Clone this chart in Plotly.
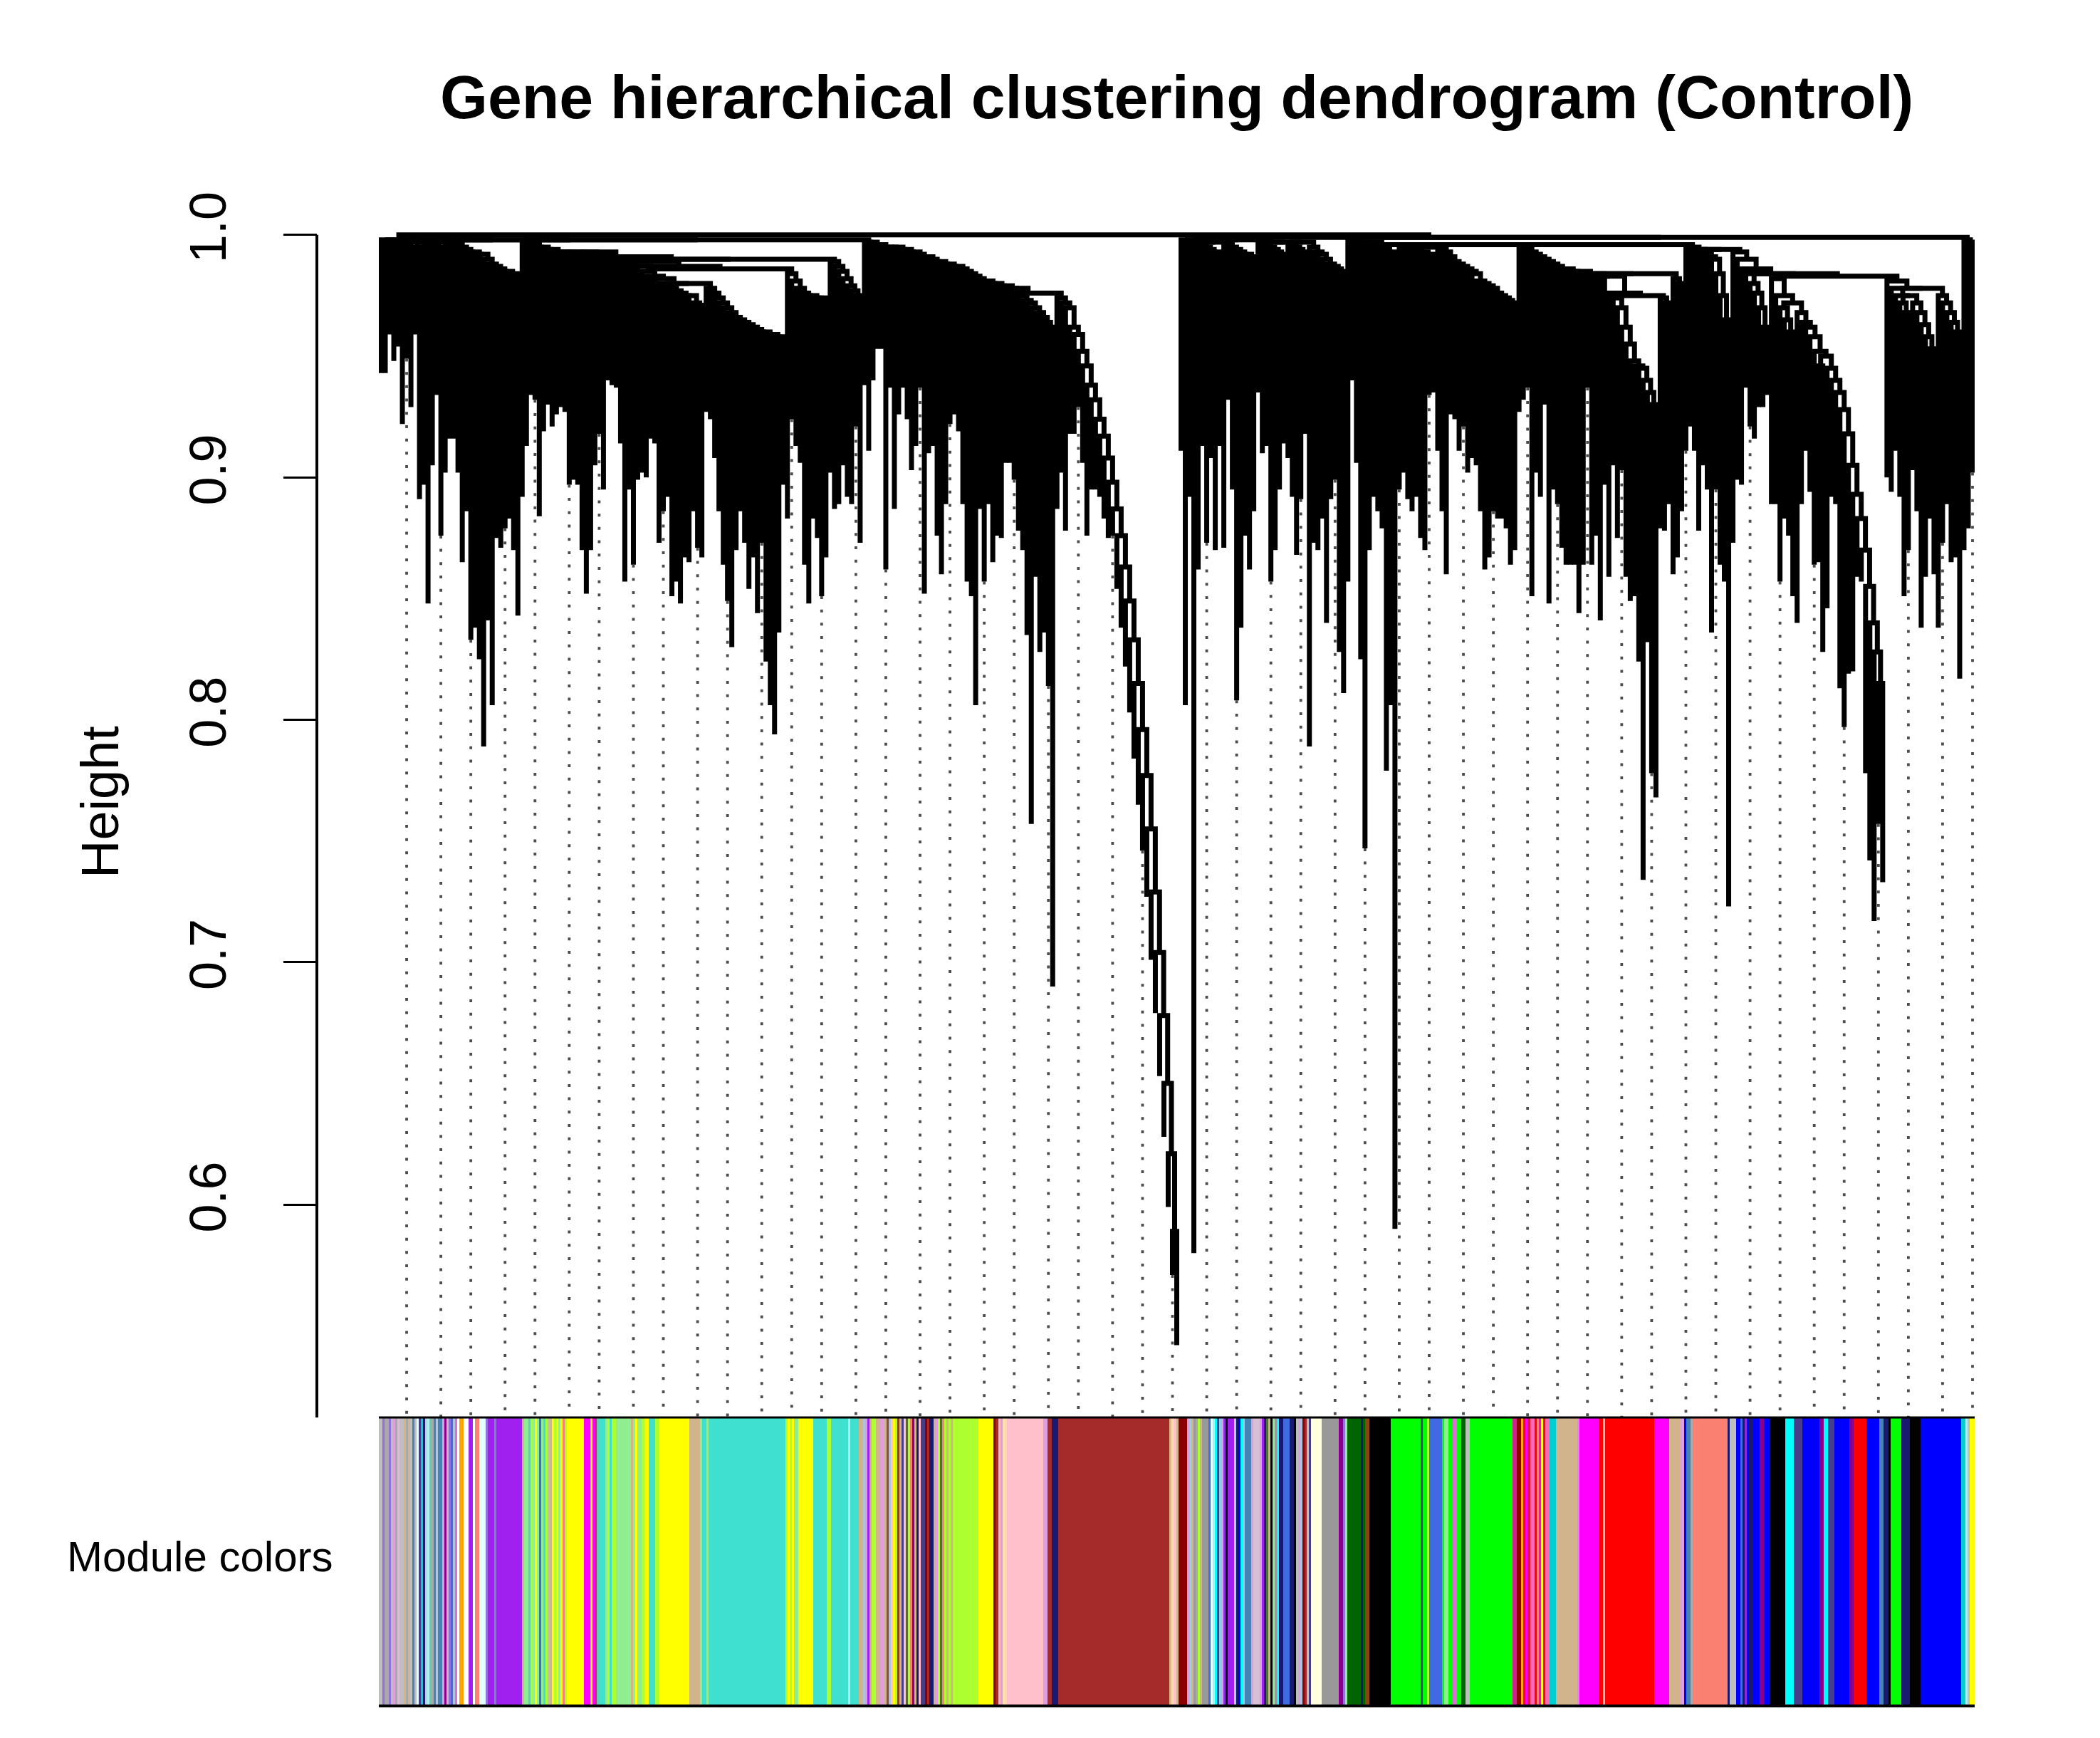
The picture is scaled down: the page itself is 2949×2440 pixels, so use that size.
import plotly.graph_objects as go

# ---- dendrogram data (WGCNA gene tree, Control) ----
# branch tips in dendrogram order: height where each tip ends
pair_low = [
    # left block
    0.949, 0.949, 0.965, 0.954, 0.960, 0.928, 0.955, 0.935, 0.965, 0.897,
    0.903, 0.854, 0.911, 0.940, 0.882, 0.908, 0.922, 0.922, 0.908, 0.871,
    0.892, 0.839, 0.844, 0.831, 0.795, 0.847, 0.812, 0.881, 0.877, 0.885,
    0.889, 0.876, 0.849, 0.898, 0.919, 0.940, 0.938, 0.890, 0.925, 0.936,
    0.927, 0.932, 0.935, 0.933, 0.903, 0.905, 0.903, 0.876, 0.858, 0.876,
    0.911, 0.924, 0.901, 0.946, 0.944, 0.943, 0.920, 0.863, 0.901, 0.870,
    0.905, 0.908, 0.906, 0.922, 0.920, 0.879, 0.892, 0.898, 0.857, 0.863,
    0.854, 0.873, 0.871, 0.892, 0.877, 0.873, 0.933, 0.930, 0.914, 0.892,
    0.870, 0.855, 0.836, 0.876, 0.892, 0.879, 0.860, 0.873, 0.850, 0.879,
    0.830, 0.812, 0.800, 0.842, 0.903, 0.889,
    0.930, 0.919, 0.912, 0.870, 0.854, 0.889, 0.881, 0.857, 0.873, 0.908,
    0.893, 0.895, 0.911, 0.898, 0.895, 0.927, 0.879,
    # cluster starting at display x ~640
    0.944, 0.917, 0.946, 0.959, 0.959, 0.868, 0.943, 0.893, 0.932, 0.943,
    0.930, 0.909, 0.919, 0.943, 0.858, 0.916, 0.919, 0.882, 0.866, 0.895,
    0.928, 0.932, 0.925, 0.895, 0.863, 0.857, 0.812, 0.893, 0.863, 0.895,
    0.871, 0.882, 0.881, 0.912, 0.912, 0.905, 0.884, 0.876, 0.841, 0.763,
    0.865, 0.834, 0.842, 0.820, 0.696, 0.893, 0.908, 0.884,
    # brown module chain
    0.924, 0.924, 0.935, 0.912, 0.882, 0.901, 0.901, 0.898, 0.889, 0.881,
    0.882, 0.860, 0.844, 0.828, 0.809, 0.790, 0.771, 0.752, 0.733, 0.707,
    0.685, 0.659, 0.634, 0.605, 0.577, 0.548,
    # right half
    0.917, 0.812, 0.898, 0.586, 0.868, 0.919, 0.879, 0.914, 0.876, 0.919,
    0.877, 0.938, 0.901, 0.814, 0.844, 0.882, 0.868, 0.892, 0.941, 0.916,
    0.919, 0.863, 0.876, 0.901, 0.920, 0.914, 0.898, 0.874, 0.897, 0.924,
    0.795, 0.879, 0.876, 0.889, 0.846, 0.897, 0.905, 0.834, 0.817, 0.863,
    0.946, 0.912, 0.831, 0.753, 0.876, 0.898, 0.892, 0.885, 0.785, 0.812,
    0.596, 0.901, 0.908, 0.897, 0.892, 0.898, 0.881, 0.876, 0.940, 0.941,
    0.917, 0.892, 0.866, 0.932, 0.930, 0.917, 0.927, 0.908, 0.914, 0.911,
    0.892, 0.868, 0.873, 0.892, 0.889, 0.889, 0.885, 0.870, 0.876, 0.933,
    0.938, 0.943, 0.857, 0.908, 0.898, 0.936, 0.854, 0.901, 0.895, 0.877,
    0.870, 0.870, 0.870, 0.850, 0.870, 0.943, 0.870, 0.882, 0.847,
    0.903, 0.865, 0.911, 0.881, 0.909, 0.865, 0.855, 0.857, 0.830, 0.740,
    0.838, 0.784, 0.774, 0.885, 0.884, 0.895, 0.866, 0.873, 0.892, 0.917,
    0.927, 0.917, 0.884, 0.911, 0.901, 0.842, 0.901, 0.870, 0.863, 0.729,
    0.879, 0.905, 0.903, 0.943, 0.927, 0.922, 0.935, 0.935, 0.940, 0.895,
    0.895, 0.863, 0.889, 0.882, 0.857, 0.846, 0.895, 0.917, 0.900, 0.870,
    0.871, 0.834, 0.852, 0.898, 0.895, 0.819, 0.803, 0.825, 0.826, 0.865,
    0.863, 0.784, 0.748, 0.723, 0.763, 0.739, 0.906, 0.900, 0.917, 0.898,
    0.857, 0.876, 0.909, 0.892, 0.844, 0.865, 0.889, 0.866, 0.844, 0.879,
    0.895, 0.871, 0.873, 0.823, 0.876, 0.885, 0.908,
]

# height at which each tip is linked to the next one (upper edge and bars)
pair_link = [
    0.998, 0.997, 0.998, 0.996, 0.997, 0.998, 0.996, 0.997, 0.995, 0.997,
    0.996, 0.998, 0.996, 0.995, 0.997, 0.996, 0.994,
    0.996, 0.995, 0.994, 0.993, 0.993, 0.992, 0.992, 0.990, 0.988, 0.987,
    0.986, 0.985, 0.985, 0.984, 0.984,
    0.998,
    0.997, 0.996, 0.996, 0.995, 0.995, 0.994, 0.994, 0.993, 0.993,
    0.993, 0.992, 0.992, 0.993, 0.992, 0.991, 0.992, 0.993, 0.991, 0.990, 0.990,
    0.991, 0.990, 0.989, 0.989, 0.988, 0.988, 0.989,
    0.987, 0.985, 0.983, 0.981, 0.982, 0.980, 0.979,
    0.978, 0.977, 0.976, 0.975, 0.974, 0.975, 0.972, 0.971, 0.980,
    0.978, 0.976, 0.974, 0.972, 0.970, 0.968, 0.966, 0.965, 0.964, 0.963,
    0.962, 0.961, 0.960, 0.960, 0.959, 0.959, 0.958, 0.958,
    0.986,
    0.984, 0.981, 0.978, 0.976, 0.975, 0.975, 0.974, 0.974, 0.974,
    0.990,
    0.989, 0.987, 0.985, 0.982, 0.979, 0.977, 0.975,
    0.998,
    0.997, 0.997, 0.996, 0.996, 0.995, 0.995, 0.995,
    0.995, 0.994, 0.994, 0.993, 0.993, 0.992, 0.991, 0.991, 0.990, 0.989,
    0.989, 0.988,
    0.988, 0.987, 0.987, 0.986,
    0.985, 0.984, 0.983, 0.982, 0.981, 0.981, 0.980, 0.980, 0.979, 0.979, 0.978,
    0.978,
    0.976, 0.975, 0.973, 0.972, 0.970, 0.968, 0.966, 0.964, 0.962,
    0.976,
    0.974, 0.972, 0.970,
    # brown chain
    0.962, 0.959, 0.952, 0.946, 0.938, 0.932, 0.924, 0.917, 0.908, 0.898,
    0.887, 0.876, 0.863, 0.849, 0.833, 0.815, 0.796, 0.777, 0.755, 0.729,
    0.704, 0.678, 0.650, 0.621, 0.589,
    # root
    1.000,
    0.998, 0.997, 0.998, 0.997, 0.996, 0.995, 0.994, 0.993, 0.993, 0.997,
    0.996, 0.995, 0.994, 0.993, 0.992, 0.992, 0.991, 0.998, 0.997, 0.996,
    0.995, 0.994, 0.993, 0.992, 0.997, 0.996, 0.995, 0.994, 0.993, 0.997,
    0.995, 0.993, 0.992, 0.990, 0.988, 0.987, 0.986, 0.985,
    0.999,
    0.998, 0.997, 0.997, 0.996, 0.996, 0.995, 0.995, 0.994, 0.994, 0.993, 0.993,
    0.996, 0.995, 0.995, 0.994, 0.994, 0.993, 0.993, 0.992, 0.992,
    0.995, 0.994, 0.993, 0.991, 0.989, 0.988, 0.987, 0.986, 0.985, 0.984,
    0.981, 0.980, 0.979, 0.978, 0.976, 0.975, 0.974, 0.973, 0.972,
    0.996,
    0.995, 0.994, 0.993, 0.992, 0.991, 0.990, 0.989,
    0.988, 0.987, 0.986, 0.986, 0.985, 0.985, 0.984, 0.984, 0.983, 0.983,
    0.982, 0.982, 0.981,
    0.983, 0.976,
    0.974, 0.970, 0.962, 0.955, 0.948, 0.946, 0.945, 0.940, 0.935, 0.930,
    0.975,
    0.974, 0.972, 0.984, 0.982, 0.980,
    0.996,
    0.995, 0.994, 0.994, 0.993, 0.992, 0.991, 0.990,
    0.984, 0.975, 0.965,
    0.994,
    0.993, 0.990, 0.986, 0.984, 0.980, 0.976, 0.970, 0.962,
    0.984,
    0.982, 0.975, 0.970, 0.965, 0.960, 0.972, 0.968, 0.964, 0.962, 0.958,
    0.952, 0.946,
    0.950, 0.945, 0.940, 0.935, 0.928, 0.918, 0.905, 0.893, 0.883, 0.870,
    0.855, 0.840, 0.828, 0.815,
    0.983,
    0.981, 0.978, 0.975, 0.972, 0.968, 0.975, 0.972, 0.968, 0.963, 0.958, 0.953,
    0.978,
    0.975, 0.972, 0.968, 0.964, 0.960,
    0.999,
    0.998, 0.997,
]

# ---- module colour bar (run lengths, dendrogram order) ----
module_colors = [
    "grey", "mediumpurple", "darkgrey", "mediumpurple", "grey", "plum", "darkgrey", "thistle",
    "grey", "tan", "darkgrey", "tan", "grey", "steelblue", "grey", "lightcyan", "darkslateblue",
    "darkturquoise", "midnightblue", "lightblue", "paleturquoise", "mediumaquamarine", "darkgrey",
    "steelblue", "lightsteelblue", "steelblue", "plum", "darkmagenta", "grey", "mediumpurple",
    "royalblue", "lightsteelblue", "orchid", "white", "orange", "white", "purple", "white",
    "salmon", "lightcyan", "mediumpurple", "purple", "mediumpurple", "purple",
    "tan", "lightgreen", "mediumaquamarine", "greenyellow", "lightgreen", "yellow", "lightgreen",
    "royalblue", "lightgreen", "turquoise", "greenyellow", "grey", "tan", "yellow", "greenyellow",
    "yellow", "lightgreen", "yellow", "salmon", "greenyellow",
    "yellow", "magenta", "yellow", "magenta", "violetred", "mediumaquamarine", "turquoise",
    "lightgreen", "greenyellow", "turquoise", "greenyellow", "lightgreen", "tan", "lightgreen",
    "yellow", "lightgreen", "greenyellow", "yellow", "turquoise", "greenyellow", "yellow", "tan",
    "lightgreen", "turquoise", "lightgreen",
    "turquoise",
    "greenyellow", "yellow", "greenyellow", "yellow", "lightgreen", "yellow", "turquoise",
    "greenyellow", "turquoise", "paleturquoise", "turquoise",
    "tan", "lightsteelblue", "plum", "purple", "tan", "greenyellow", "tan", "plum", "tan",
    "salmon4", "lightsteelblue", "pink", "yellow", "greenyellow", "saddlebrown", "tan",
    "darkslateblue", "pink", "darkolivegreen", "greenyellow", "salmon", "darkmagenta", "tan",
    "midnightblue", "pink", "darkslateblue", "darkred", "brown", "midnightblue", "tan", "plum",
    "greenyellow", "darkolivegreen", "salmon", "greenyellow", "tan", "greenyellow", "tan",
    "greenyellow", "yellow", "darkred", "brown", "lightpink", "plum", "navajowhite", "pink",
    "plum", "brown", "midnightblue", "brown",
    "burlywood", "navajowhite", "pink", "tan", "darkred", "plum", "lightsteelblue", "tan",
    "grey60", "darkgrey", "greenyellow", "tan", "grey60", "royalblue", "lightcyan",
    "paleturquoise", "cyan", "darkslateblue", "skyblue", "plum", "blueviolet", "black", "purple",
    "lightblue", "midnightblue", "blue", "cyan", "skyblue", "steelblue", "plum", "thistle",
    "plum", "purple", "midnightblue", "darkolivegreen", "tan", "black", "lightgreen", "grey60",
    "cyan", "midnightblue", "royalblue", "midnightblue", "black", "grey", "plum",
    "lightsteelblue", "darkred", "brown", "grey", "darkslateblue",
    "lightyellow", "grey60", "darkmagenta", "mediumpurple", "lightgreen", "darkgreen",
    "midnightblue", "darkgreen", "saddlebrown", "black",
    "green", "darkslateblue", "green", "greenyellow", "royalblue", "green", "lightgreen",
    "green", "orchid", "green", "darkgreen", "grey", "green",
    "violetred", "darkred", "orange", "red", "magenta", "crimson", "hotpink", "red", "salmon",
    "magenta", "yellow", "red", "hotpink", "darkturquoise",
    "tan",
    "violet", "magenta", "red", "grey", "red", "magenta", "tan", "plum", "blue", "steelblue",
    "darkgrey", "salmon", "midnightblue", "grey", "blue", "royalblue", "midnightblue",
    "blueviolet", "blue", "midnightblue", "blue", "darkmagenta", "blue", "black", "cyan",
    "darkslateblue", "blue", "darkmagenta", "cyan", "darkslateblue", "blue", "darkmagenta",
    "red", "blue", "steelblue", "midnightblue", "black", "green", "midnightblue", "black",
    "blue", "darkturquoise", "paleturquoise", "grey", "yellow",
]
module_sizes = [
    2, 1, 2, 1, 1, 1, 1, 1,
    2, 1, 1, 1, 1, 1, 1, 1, 1,
    1, 1, 1, 1, 1, 1,
    1, 1, 2, 1, 1, 1, 1,
    1, 1, 1, 1, 2, 2, 2, 1,
    2, 3, 1, 3, 1, 12,
    1, 2, 1, 1, 1, 1, 1,
    1, 1, 1, 1, 1, 1, 1, 1,
    1, 1, 1, 1, 1,
    8, 3, 1, 1, 1, 1, 3,
    1, 1, 1, 2, 7, 1, 1,
    1, 2, 1, 2, 3, 2, 14, 5,
    1, 2, 1,
    36,
    1, 1, 1, 1, 2, 7, 6,
    2, 8, 1, 4,
    2, 1, 1, 1, 1, 2, 2, 2, 1,
    1, 1, 1, 1, 1, 1, 1,
    1, 1, 1, 1, 1, 1, 1,
    1, 1, 2, 1, 1, 2, 1, 1,
    1, 1, 1, 1, 1, 1, 1,
    12, 7, 1, 1, 1, 1, 2, 17,
    2, 2, 3, 52,
    1, 1, 1, 1, 4, 1, 1, 1,
    1, 1, 1, 1, 3, 1, 1,
    1, 1, 1, 1, 1, 1, 1, 3,
    1, 1, 1, 1, 1, 3, 1, 3,
    1, 1, 1, 1, 1, 1, 1, 1,
    1, 2, 3, 2, 1, 1, 1,
    1, 1, 1, 1, 1,
    5, 8, 2, 1, 1, 6,
    1, 1, 2, 10,
    14, 1, 2, 1, 6, 1, 2,
    2, 2, 2, 2, 2, 20,
    2, 2, 1, 1, 1, 1, 2, 1, 1,
    1, 1, 1, 2, 3,
    10,
    1, 9, 2, 1, 23, 7, 5, 2, 1, 2,
    1, 16, 1, 3, 2, 1, 1,
    1, 1, 2, 3, 2, 3, 7, 4,
    4, 8, 2, 2, 3, 7, 2,
    6, 6, 2, 2, 1, 5, 4, 5,
    19, 2, 1, 1, 2,
]

# R colour names that differ from (or are missing in) CSS
R_COLORS = {
    "grey": "#BEBEBE", "grey60": "#999999", "purple": "#A020F0", "green": "#00FF00",
    "violetred": "#D02090", "salmon4": "#8B4C39",
}

y_ticks = [0.6, 0.7, 0.8, 0.9, 1.0]
y_tick_labels = ["0.6", "0.7", "0.8", "0.9", "1.0"]

LEAF_HANG = 0.006
GUIDE_COUNT = 50
W, H = 2949, 2440          # target picture
OFF = 8                    # page body margin
FW, FH = W - OFF, H - OFF  # figure size
Y_LO, Y_HI = 0.5122, 1.0029


def px(x):
    return (x - OFF) / FW


def py(y):
    return 1 - (y - OFF) / FH


n_tips = len(pair_low)
n_leaves = 2 * n_tips

# ---- build the tree: split each range at its highest link ----
dx, dy = [], []


def build(a, b):
    if a == b:
        return 2 * a + 1.0, pair_low[a] - LEAF_HANG
    m = max(range(a, b), key=lambda i: pair_link[i])
    xl, hl = build(a, m)
    xr, hr = build(m + 1, b)
    h = pair_link[m]
    dx.extend([xl, xl, xr, xr, None])
    dy.extend([hl, h, h, hr, None])
    return (xl + xr) / 2, h


build(0, n_tips - 1)

# guide lines below evenly spaced tips
gx, gy = [], []
for i in range(1, GUIDE_COUNT + 1):
    tip = min(round(i * n_tips / GUIDE_COUNT), n_tips) - 1
    tip = max(tip, 0)
    gx.extend([2 * tip + 1.0, 2 * tip + 1.0, None])
    gy.extend([pair_low[tip] - LEAF_HANG, Y_LO, None])

# colour bar positions
starts = []
acc = 0
for s in module_sizes:
    starts.append(acc)
    acc += s
bar_x = [st + s / 2 for st, s in zip(starts, module_sizes)]
bar_colors = [R_COLORS.get(c, c) for c in module_colors]

fig = go.Figure()
fig.add_trace(go.Scatter(x=gx, y=gy, mode="lines", hoverinfo="skip",
                         line=dict(color="#4d4d4d", width=3.8, dash="4px,14.7px")))
fig.add_trace(go.Scatter(x=dx, y=dy, mode="lines", hoverinfo="skip",
                         line=dict(color="black", width=7.0)))
fig.add_trace(go.Bar(x=bar_x, y=[1] * len(bar_x), width=module_sizes, base=0,
                     marker=dict(color=bar_colors, line=dict(color=bar_colors, width=1)),
                     xaxis="x2", yaxis="y2", hoverinfo="skip"))

X0, X1 = px(532), px(2773)
AX_X = px(445)

fig.update_layout(
    width=FW, height=FH,
    margin=dict(l=0, r=0, t=0, b=0, autoexpand=False),
    paper_bgcolor="white", plot_bgcolor="white",
    showlegend=False,
    font=dict(family="Liberation Sans, Arial, sans-serif", color="black"),
    xaxis=dict(domain=[X0, X1], range=[0, n_leaves], visible=False, anchor="y",
               automargin=False),
    yaxis=dict(domain=[py(1990), py(320)], range=[Y_LO, Y_HI],
               anchor="free", position=AX_X, showline=False, showgrid=False, zeroline=False,
               ticks="outside", ticklen=47, tickwidth=3, tickcolor="black",
               tickvals=y_ticks, ticktext=y_tick_labels, tickangle=-90,
               tickfont=dict(size=72), ticklabelstandoff=52, automargin=False),
    xaxis2=dict(domain=[X0, X1], range=[0, acc], visible=False, anchor="y2",
                automargin=False),
    yaxis2=dict(domain=[py(2395), py(1990)], range=[0, 1], visible=False, anchor="x2",
                automargin=False),
    bargap=0,
    shapes=[
        dict(type="line", xref="paper", yref="y", x0=AX_X, x1=AX_X, y0=Y_LO, y1=1.0,
             line=dict(color="black", width=4)),
        dict(type="line", xref="paper", yref="paper", x0=X0, x1=X1,
             y0=py(1990), y1=py(1990), line=dict(color="black", width=3)),
        dict(type="line", xref="paper", yref="paper", x0=X0, x1=X1,
             y0=py(2395), y1=py(2395), line=dict(color="black", width=4)),
    ],
    annotations=[
        dict(text="<b>Gene hierarchical clustering dendrogram (Control)</b>",
             xref="paper", yref="paper", x=px(1652), y=py(136),
             xanchor="center", yanchor="middle", showarrow=False, font=dict(size=86)),
        dict(text="Height", xref="paper", yref="paper", x=px(140), y=py(1126),
             xanchor="center", yanchor="middle", textangle=-90, showarrow=False,
             font=dict(size=74)),
        dict(text="Module colors", xref="paper", yref="paper", x=px(281), y=py(2185),
             xanchor="center", yanchor="middle", showarrow=False, font=dict(size=60)),
    ],
)

fig.write_html("out.html")
